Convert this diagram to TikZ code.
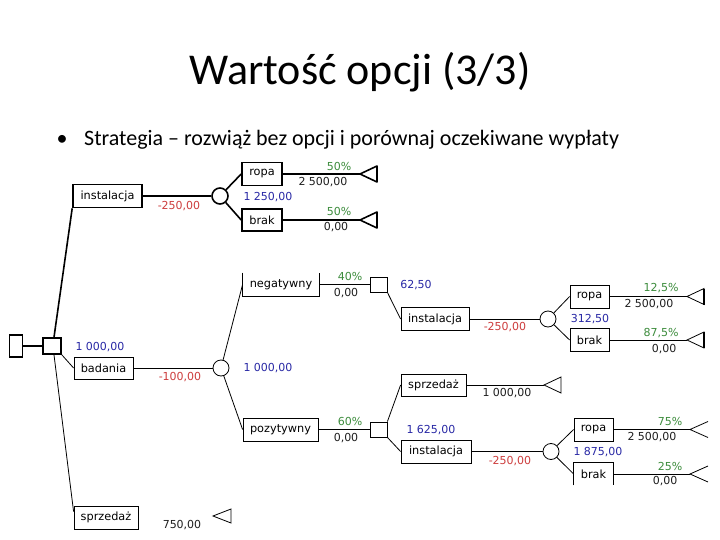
\documentclass[tikz,border=0pt]{standalone}
\usepackage{fontspec}
\setmainfont{Carlito}
\newfontfamily\dfont{DejaVu Sans}
\definecolor{pgreen}{RGB}{60,140,60}
\definecolor{pred}{RGB}{205,60,60}
\definecolor{pblue}{RGB}{40,40,165}
\definecolor{ptext}{RGB}{30,30,30}
\begin{document}
\begin{tikzpicture}[x=1pt,y=-1pt,
 lbl/.style={font=\dfont\fontsize{11}{13}\selectfont, inner sep=0pt},
 glbl/.style={lbl,text=pgreen}, rlbl/.style={lbl,text=pred},
 blbl/.style={lbl,text=pblue}, klbl/.style={lbl,text=ptext},
 bx/.style={draw, line width=0.8pt, font=\dfont\fontsize{11.3}{13}\selectfont, inner sep=0pt, minimum height=23pt},
 tbx/.style={bx, line width=1.6pt},
 chance/.style={circle, draw, line width=0.8pt, minimum size=16pt, inner sep=0pt},
 dec/.style={rectangle, draw, line width=0.8pt, minimum width=17pt, minimum height=15pt, inner sep=0pt},
 ln/.style={line width=0.8pt}, tln/.style={line width=1.6pt}
]
\fill[white] (0,0) rectangle (720,540);
\useasboundingbox (0,0) rectangle (720,540);

% title
\node[anchor=base, inner sep=0pt, font=\fontsize{44}{50}\selectfont] (title) at (360,85) {Wartość opcji (3/3)};
\node[anchor=base, inner sep=0pt, font=\fontsize{22}{26}\selectfont] (dot) at (62,146) {•};
\node[anchor=base west, inner sep=0pt, font=\fontsize{22}{26}\selectfont] (bul) at (84,146) {Strategia – rozwiąż bez opcji i porównaj oczekiwane wypłaty};

% root
\node[draw, line width=1.6pt, minimum width=13pt, minimum height=22pt, inner sep=0pt] (R) at (16,346) {};
\node[dec, line width=1.6pt, minimum width=18pt, minimum height=16pt] (D0) at (52,346) {};

% top branch
\node[tbx, minimum width=69pt] (inst1) at (107.5,196) {instalacja};
\node[chance, line width=1.6pt] (C1) at (220,196) {};
\node[tbx, minimum width=40pt] (ropa1) at (262,174) {ropa};
\node[tbx, minimum width=40pt, minimum height=22pt] (brak1) at (262,220) {brak};
\coordinate (T1) at (360,174);
\coordinate (T2) at (360,220);

% middle branch
\node[bx, minimum width=59pt, minimum height=22pt] (bad) at (103.5,368) {badania};
\node[chance] (C2) at (221,368) {};
\node[bx, draw=none, minimum width=76pt] (neg) at (281,284.5) {negatywny};
\node[dec] (D1) at (378.5,284.5) {};
\node[bx, minimum width=68pt] (inst2) at (435,319) {instalacja};
\node[chance] (C3) at (548,319) {};
\node[bx, minimum width=39pt] (ropa2) at (589.5,296.5) {ropa};
\node[bx, minimum width=39pt] (brak2) at (589.5,340) {brak};
\coordinate (T3) at (687,296.5);
\coordinate (T4) at (687,340);
\node[bx, minimum width=75pt] (poz) at (280.5,429.5) {pozytywny};
\node[dec] (D2) at (378.5,429.5) {};
\node[bx, minimum width=65pt, minimum height=22pt] (sprz1) at (433.5,385) {sprzedaż};
\coordinate (T5) at (544,385);
\node[bx, minimum width=70pt] (inst3) at (436,451.5) {instalacja};
\node[chance] (C4) at (551,451.5) {};
\node[bx, minimum width=39pt] (ropa3) at (593.5,429.5) {ropa};
\node[bx, draw=none, minimum width=39pt, minimum height=22pt] (brak3) at (593.5,474) {brak};
\coordinate (T6) at (690,429.5);
\coordinate (T7) at (690,474);

% bottom branch
\node[bx, minimum width=64pt] (sprz0) at (106,517.5) {sprzedaż};
\coordinate (T8) at (213,516);

% open boxes
\draw[ln] (neg.north west) -- (neg.south west) -- (neg.south east) -- (neg.north east);
\draw[ln] (brak3.south west) -- (brak3.north west) -- (brak3.north east) -- (brak3.south east);

% connectors
\draw[tln] (R) -- (D0);
\draw[tln] ([xshift=2pt]D0.north) -- (inst1.south west);
\draw[ln] (D0.south east) -- (bad.west);
\draw[ln] ([xshift=2pt]D0.south) -- ([yshift=-6pt]sprz0.north west);
\draw[tln] (inst1.east) -- (C1.west);
\draw[tln] (C1) -- (ropa1.west);
\draw[tln] (C1) -- (brak1.west);
\draw[tln] (ropa1.east) -- (T1);
\draw[tln] (brak1.east) -- (T2);

\draw[ln] (bad.east) -- (C2.west);
\draw[ln] (C2) -- (neg.west);
\draw[ln] (neg.east) -- (D1.west);
\draw[ln] (D1.south east) -- (inst2.west);
\draw[ln] (inst2.east) -- (C3.west);
\draw[ln] (C3) -- (ropa2.west);
\draw[ln] (C3) -- (brak2.west);
\draw[ln] (ropa2.east) -- (T3);
\draw[ln] (brak2.east) -- (T4);
\draw[ln] (C2) -- (poz.west);
\draw[ln] (poz.east) -- (D2.west);
\draw[ln] (D2.north east) -- (sprz1.west);
\draw[ln] (sprz1.east) -- (T5);
\draw[ln] (D2.south east) -- (inst3.west);
\draw[ln] (inst3.east) -- (C4.west);
\draw[ln] (C4) -- (ropa3.west);
\draw[ln] (C4) -- (brak3.west);
\draw[ln] (ropa3.east) -- (T6);
\draw[ln] (brak3.east) -- (T7);

% terminal triangles
\draw[tln, line join=round] (T1) -- ++(17,-8) -- ++(0,16) -- cycle;
\draw[tln, line join=round] (T2) -- ++(17,-8) -- ++(0,16) -- cycle;
\draw[ln] (T3) -- ++(17,-8) -- ++(0,16) -- cycle;
\draw[tln] (T3) ++(17,-8) -- ++(0,16);
\draw[ln] (T4) -- ++(17,-8) -- ++(0,16) -- cycle;
\draw[tln] (T4) ++(17,-8) -- ++(0,16);
\draw[ln] (T5) -- ++(17,-8) -- ++(0,16) -- cycle;
\draw[ln] (T6) ++(18,-8) -- (T6) -- ++(18,8);
\draw[ln] (T7) ++(18,-8) -- (T7) -- ++(18,8);
\draw[ln] (T8) -- ++(18,-7) -- ++(0,14) -- cycle;

% labels top
\node[rlbl] (l1) at (179,206) {-250,00};
\node[blbl] (l2) at (268,197) {1 250,00};
\node[glbl] (l3) at (339,166) {50\%};
\node[klbl] (l4) at (323,182) {2 500,00};
\node[glbl] (l5) at (339,211) {50\%};
\node[klbl] (l6) at (336,227) {0,00};

% labels middle
\node[blbl] (l7) at (100,347) {1 000,00};
\node[rlbl] (l8) at (180,377) {-100,00};
\node[blbl] (l9) at (268,368) {1 000,00};
\node[glbl] (l10) at (350,276) {40\%};
\node[klbl] (l11) at (346,293) {0,00};
\node[blbl] (l12) at (416,285) {62,50};
\node[rlbl] (l13) at (505,327) {-250,00};
\node[blbl] (l14) at (590,319) {312,50};
\node[glbl] (l15) at (661,288) {12,5\%};
\node[klbl] (l16) at (649,304) {2 500,00};
\node[glbl] (l17) at (661,333) {87,5\%};
\node[klbl] (l18) at (664,349) {0,00};
\node[glbl] (l19) at (350,421) {60\%};
\node[klbl] (l20) at (346,438) {0,00};
\node[klbl] (l21) at (507,393) {1 000,00};
\node[blbl] (l22) at (431,430) {1 625,00};
\node[rlbl] (l23) at (510,461) {-250,00};
\node[blbl] (l24) at (598,452) {1 875,00};
\node[glbl] (l25) at (670,421) {75\%};
\node[klbl] (l26) at (652,437) {2 500,00};
\node[glbl] (l27) at (670,466) {25\%};
\node[klbl] (l28) at (665,481) {0,00};

% labels bottom
\node[klbl] (l29) at (182,525) {750,00};
\end{tikzpicture}
\end{document}
